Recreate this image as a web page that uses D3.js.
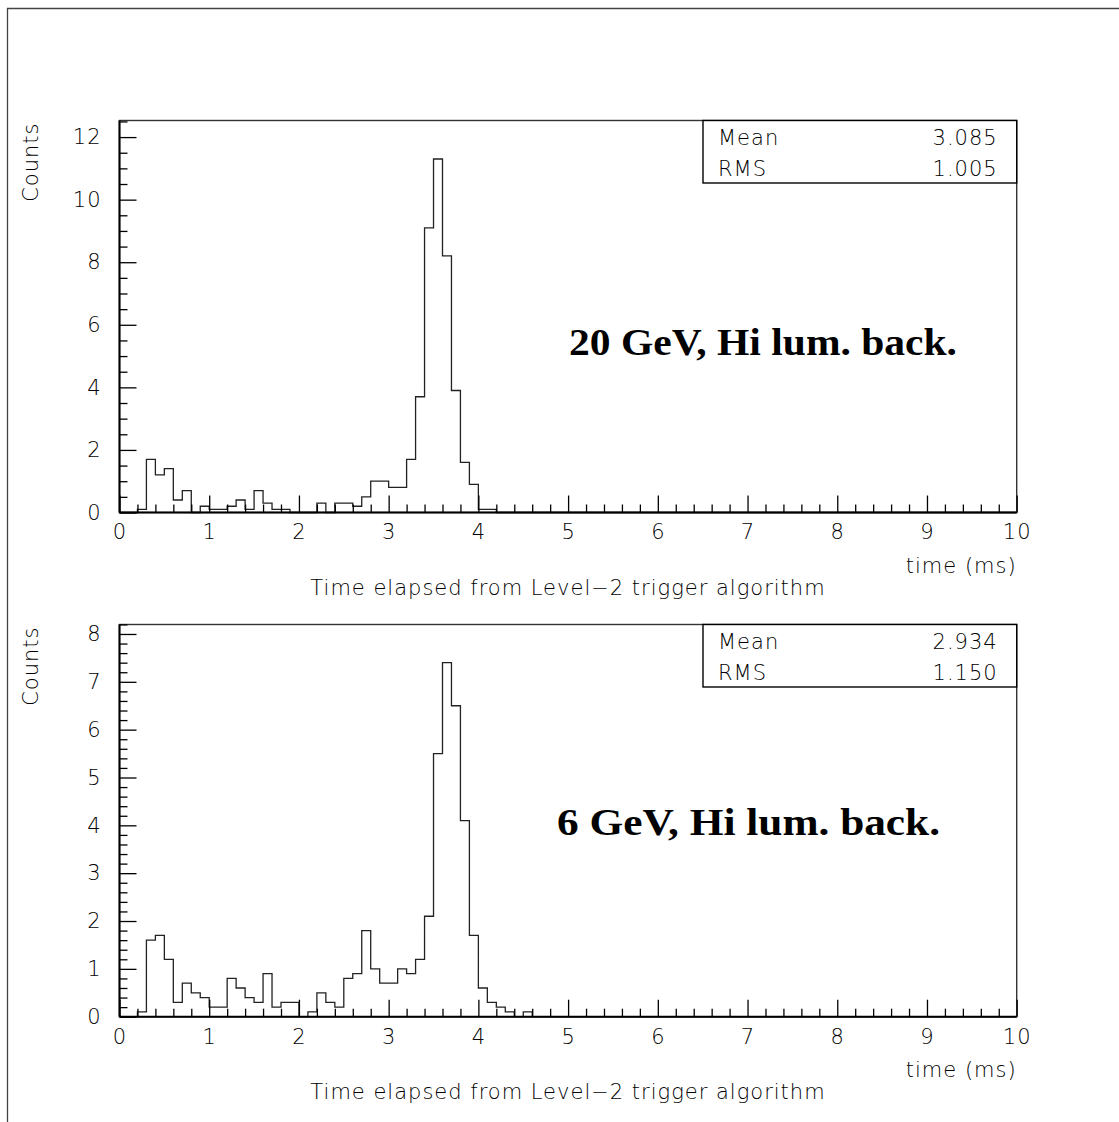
<!DOCTYPE html>
<html><head><meta charset="utf-8">
<script src="https://cdn.jsdelivr.net/npm/d3@7"></script>
<style>
body{margin:0;background:#fff}
svg{display:block}
.t{font-family:"DejaVu Sans","Liberation Sans",sans-serif;font-weight:200;font-size:21px;letter-spacing:1px;fill:#000}
.big{font-family:"Liberation Serif","Times New Roman",serif;font-weight:bold;font-size:38px;fill:#000}
</style>
</head><body>
<svg id="c" width="1119" height="1122"></svg>
<script>
// ---- data ----
const xTickValues = [0,1,2,3,4,5,6,7,8,9,10];
const xTickLabels = ["0","1","2","3","4","5","6","7","8","9","10"];
const topYTicks = [0,2,4,6,8,10,12];
const topYTickLabels = ["0","2","4","6","8","10","12"];
const botYTicks = [0,1,2,3,4,5,6,7,8];
const botYTickLabels = ["0","1","2","3","4","5","6","7","8"];

// 100 bins of 0.1 ms from 0 to 10 ms
const topCounts = [
 0,0,0.1,1.7,1.2,1.4,0.4,0.7,0,0.2,
 0.1,0.1,0.2,0.4,0.1,0.7,0.3,0.1,0.1,0,
 0,0,0.3,0,0.3,0.3,0.2,0.5,1.0,1.0,
 0.8,0.8,1.7,3.7,9.1,11.3,8.2,3.9,1.6,0.9,
 0.1,0.1,0,0,0,0,0,0,0,0,
 0,0,0,0,0,0,0,0,0,0,
 0,0,0,0,0,0,0,0,0,0,
 0,0,0,0,0,0,0,0,0,0,
 0,0,0,0,0,0,0,0,0,0,
 0,0,0,0,0,0,0,0,0,0];
const botCounts = [
 0,0,0.1,1.6,1.7,1.2,0.3,0.7,0.5,0.4,
 0.2,0.2,0.8,0.6,0.4,0.3,0.9,0.2,0.3,0.3,
 0,0.1,0.5,0.3,0.2,0.8,0.9,1.8,1.0,0.7,
 0.7,1.0,0.9,1.2,2.1,5.5,7.4,6.5,4.1,1.7,
 0.6,0.3,0.2,0.1,0,0.1,0,0,0,0,
 0,0,0,0,0,0,0,0,0,0,
 0,0,0,0,0,0,0,0,0,0,
 0,0,0,0,0,0,0,0,0,0,
 0,0,0,0,0,0,0,0,0,0,
 0,0,0,0,0,0,0,0,0,0];

const topStatNames = ["Mean","RMS"];
const topStatValues = ["3.085","1.005"];
const botStatNames = ["Mean","RMS"];
const botStatValues = ["2.934","1.150"];

const topLabel = "20 GeV, Hi lum. back.";
const botLabel = "6 GeV, Hi lum. back.";
const xTitle = "Time elapsed from Level\u22122 trigger algorithm";
const xUnit = "time (ms)";
const yTitle = "Counts";

// ---- drawing ----
const svg = d3.select("#c");
// outer frame (cropped)
svg.append("path").attr("d","M7.5,1122V8.5H1119").attr("fill","none").attr("stroke","#444").attr("stroke-width",1.3);

const X0 = 119.5, X1 = 1016.7;

function panel(cfg){
  const x = d3.scaleLinear().domain([0,10]).range([X0,X1]);
  const y = d3.scaleLinear().domain([0,cfg.ymax]).range([cfg.y0,cfg.yTop]);
  const g = svg.append("g");

  // histogram outline
  const pts = cfg.counts.map((v,i)=>[i*0.1, v]);
  pts.push([10, 0]);
  const line = d3.line().x(d=>x(d[0])).y(d=>y(d[1])).curve(d3.curveStepAfter);
  g.append("path").attr("d", line(pts)).attr("fill","none").attr("stroke","#222").attr("stroke-width",1.3);

  // frame
  g.append("rect").attr("x",X0).attr("y",cfg.yTop).attr("width",X1-X0).attr("height",cfg.y0-cfg.yTop)
    .attr("fill","none").attr("stroke","#333").attr("stroke-width",1.4);
  g.append("line").attr("x1",X0).attr("x2",X1).attr("y1",cfg.y0).attr("y2",cfg.y0).attr("stroke","#000").attr("stroke-width",2);
  g.append("line").attr("x1",X0).attr("x2",X0).attr("y1",cfg.y0).attr("y2",cfg.yTop).attr("stroke","#000").attr("stroke-width",2);

  // x axis ticks
  const xMinor = d3.range(0,10.001,0.2).filter(v=>Math.abs(v-Math.round(v))>1e-6);
  const xa = g.append("g").attr("transform",`translate(0,${cfg.y0})`)
    .call(d3.axisBottom(x).tickValues(xTickValues).tickFormat((d,i)=>xTickLabels[i]).tickSize(-17).tickPadding(12));
  const xm = g.append("g").attr("transform",`translate(0,${cfg.y0})`)
    .call(d3.axisBottom(x).tickValues(xMinor).tickFormat("").tickSize(-8));
  // y axis ticks
  const ya = g.append("g").attr("transform",`translate(${X0},0)`)
    .call(d3.axisLeft(y).tickValues(cfg.yMajor).tickFormat((d,i)=>cfg.yLabels[i]).tickSize(-17).tickPadding(18));
  const ym = g.append("g").attr("transform",`translate(${X0},0)`)
    .call(d3.axisLeft(y).tickValues(cfg.yMinor).tickFormat("").tickSize(-8));
  [xa,xm,ya,ym].forEach(a=>{
    a.select(".domain").remove();
    a.selectAll(".tick line").attr("stroke","#000").attr("stroke-width",1.3);
    a.selectAll(".tick text").attr("class","t").attr("font-size",null).attr("font-family",null);
  });
  xa.attr("font-size",null).attr("font-family",null);
  ya.attr("font-size",null).attr("font-family",null);

  // axis titles
  g.append("text").attr("class","t").attr("x",X1).attr("y",cfg.y0+60).attr("text-anchor","end").text(xUnit);
  g.append("text").attr("class","t").attr("x",568).attr("y",cfg.y0+82).attr("text-anchor","middle").text(xTitle);
  g.append("text").attr("class","t").attr("transform",`translate(38,${cfg.yTop+2}) rotate(-90)`).attr("text-anchor","end").text(yTitle);

  // stats box
  const bx = 703, bh = 62.5;
  g.append("rect").attr("x",bx).attr("y",cfg.yTop).attr("width",X1-bx).attr("height",bh)
    .attr("fill","#fff").attr("stroke","#000").attr("stroke-width",1.4);
  cfg.statNames.forEach((n,i)=>{
    const by = cfg.yTop + 24 + i*31;
    g.append("text").attr("class","t").attr("x",bx+15).attr("y",by).text(n);
    g.append("text").attr("class","t").attr("x",X1-19).attr("y",by).attr("text-anchor","end").text(cfg.statValues[i]);
  });

  // big label
  g.append("text").attr("class","big").attr("x",cfg.lx).attr("y",cfg.ly)
    .attr("textLength",cfg.lw).attr("lengthAdjust","spacingAndGlyphs").text(cfg.label);
}

panel({counts:topCounts, ymax:12.53, y0:512.5, yTop:120.5,
  yMajor:topYTicks, yLabels:topYTickLabels, yMinor:d3.range(0,12.51,0.5).filter(v=>v%2!==0),
  statNames:topStatNames, statValues:topStatValues, label:topLabel, lx:569, ly:355, lw:388});
panel({counts:botCounts, ymax:8.198, y0:1016.7, yTop:624.5,
  yMajor:botYTicks, yLabels:botYTickLabels, yMinor:d3.range(0,8.21,0.2).filter(v=>Math.abs(v-Math.round(v))>1e-6),
  statNames:botStatNames, statValues:botStatValues, label:botLabel, lx:557, ly:835, lw:383});
</script>
</body></html>
